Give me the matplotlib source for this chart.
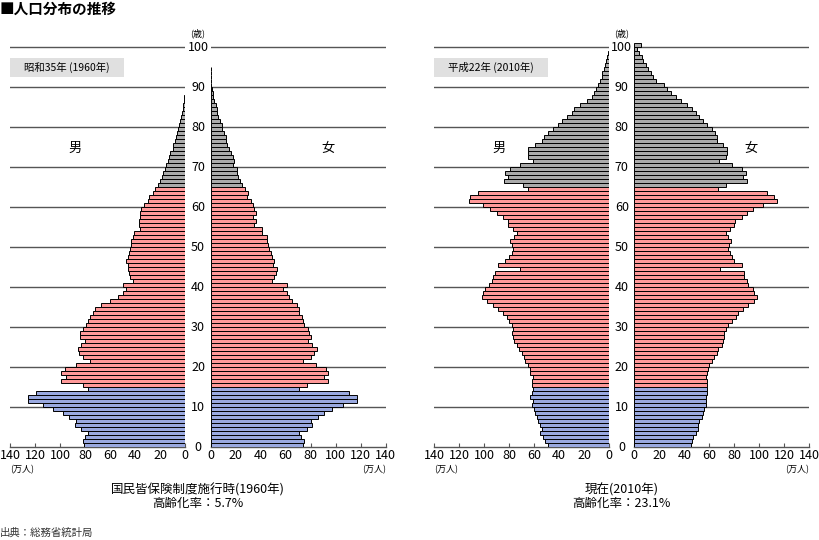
import numpy as np
import matplotlib
matplotlib.use("Agg")
import matplotlib.pyplot as plt
from matplotlib.patches import Rectangle
from matplotlib.transforms import blended_transform_factory

plt.rcParams['font.family'] = ['Noto Sans CJK JP', 'DejaVu Sans']

# ---------------- data (万人), ages 0..100 ----------------
ages = list(range(101))

male_1960 = ([81, 82, 80, 78, 83, 88, 87, 93, 98, 106, 114, 126, 126, 119, 78] +
             [82, 99, 95, 99, 96, 87, 76, 82, 85, 86, 83, 80, 84, 84, 82, 79, 78, 76, 74, 72,
              67, 60, 54, 50, 47, 50, 42, 44, 45, 46, 46, 47, 46, 45, 44, 43] +
             [43, 42, 41, 36, 37, 37, 36, 36, 35, 33, 30, 29, 26, 24] +
             [22, 20, 19, 18, 16, 15.5, 14, 13, 12, 10, 9.6, 8, 7.5, 6.4, 5.6, 4.8, 4.3, 3.5,
              2.7, 2.1, 1.6, 1.1, 0.8, 0.5] +
             [0.3, 0.2, 0.1] + [0] * 9)

female_1960 = ([74, 75, 72, 71, 77, 81, 80, 86, 91, 97, 106, 117, 117, 111, 71] +
               [77, 94, 91, 94, 92, 84, 74, 80, 83, 85, 81, 78, 80, 79, 78, 75, 74, 73, 71, 71,
                69, 65, 63, 61, 58, 61, 49, 51, 52, 53, 50, 51, 49, 48, 47, 46] +
               [45, 45, 41, 41, 35, 36, 34, 36, 35, 34, 32, 29, 30, 27.5] +
               [25, 23.5, 22, 21, 21, 17.6, 19, 18, 16, 15, 13, 12.5, 12, 10.7, 9.3, 8.8, 7.2,
                6.1, 5.3, 4.8, 4, 2.9, 2.1, 1.6, 1.1, 0.5] +
               [0.3, 0.2, 0.1, 0.1] + [0] * 6)

male_2010 = ([49, 51, 53, 55, 54, 55, 57, 58, 59, 60, 62, 61, 63, 62, 61] +
             [62, 62, 61, 63, 63, 65, 67, 68, 70, 72, 74, 76, 77, 78, 77, 78, 80, 82, 85, 89,
              93, 98, 102, 101, 99, 96, 94, 93, 91, 71, 89, 83, 80, 78, 77, 78] +
             [79, 76, 74, 77, 81, 81, 85, 90, 95, 101, 112, 111, 105, 65] +
             [69, 84, 81, 83, 79, 71, 61, 65, 65, 65, 59, 54, 52, 49, 45, 41, 38, 34, 30, 28,
              23.5, 18, 14, 12, 11, 8.8, 7.5, 6.1, 5.5, 4.5, 3.5, 2.5, 1.6, 1.0, 0.6, 0.4])

female_2010 = ([45, 46, 47, 49, 51, 51, 52, 54, 55, 56, 57, 57, 57, 58, 58] +
               [58, 58, 57, 58, 59, 60, 62, 64, 66, 67, 70, 71, 72, 72, 73, 75, 78, 81, 83, 87,
                91, 96, 98, 96, 95, 91, 90, 88, 88, 68.5, 86, 80, 78, 76.5, 75, 76] +
               [77, 75, 73, 76.5, 80, 80.5, 86, 90, 95, 103, 114, 112, 106, 67] +
               [73, 90, 87, 89, 86, 78, 68, 73, 74, 74, 71, 66, 66, 64.5, 62, 58, 55, 52, 49,
                46, 42, 37, 33, 29, 26, 24, 17, 15.2, 13, 11.2, 9.3, 7.2, 5.9, 3.7, 2.4, 5])

x_ticks = [0, 20, 40, 60, 80, 100, 120, 140]
age_ticks = [0, 10, 20, 30, 40, 50, 60, 70, 80, 90, 100]

C_YOUNG = '#9aa9e0'
C_WORK = '#ff9999'
C_OLD = '#aaaaaa'
GRID = '#555555'

W, H = 820, 540
fig = plt.figure(figsize=(W / 100, H / 100), dpi=100)


def fx(px):
    return px / W


def fy(py):
    return 1 - py / H


Y0, Y100 = 447.3, 47.3
ppy = (Y0 - Y100) / 100.0
ax_bottom = fy(Y0)
ax_height = 101 * ppy / H


def age_color(a):
    if a < 15:
        return C_YOUNG
    if a < 65:
        return C_WORK
    return C_OLD


def make_side(left_px, right_px, values, male):
    ax = fig.add_axes([fx(left_px), ax_bottom, (right_px - left_px) / W, ax_height])
    a = np.array(ages)
    v = np.array(values, dtype=float)
    m = v > 0
    ax.barh(a[m] + 0.5, v[m], height=1.0, color=[age_color(x) for x in a[m]],
            edgecolor='black', linewidth=0.7, zorder=3)
    for g in age_ticks[1:]:
        ax.axhline(g, color=GRID, linewidth=1.0, zorder=1)
    ax.set_ylim(0, 101)
    if male:
        ax.set_xlim(140, 0)
    else:
        ax.set_xlim(0, 140)
    ax.set_xticks(x_ticks)
    ax.set_xticklabels([str(t) for t in x_ticks], fontsize=9)
    ax.set_yticks([])
    for s in ['top', 'left', 'right']:
        ax.spines[s].set_visible(False)
    ax.spines['bottom'].set_color(GRID)
    ax.spines['bottom'].set_linewidth(1.0)
    ax.tick_params(axis='x', direction='in', length=3, color=GRID, pad=1.5)
    ax.patch.set_alpha(0)
    return ax


panels = [
    (10, 185.3, 210.7, 385.7, male_1960, female_1960, '昭和35年 (1960年)',
     '国民皆保険制度施行時(1960年)', '高齢化率：5.7%'),
    (434.0, 609.3, 634.3, 809.3, male_2010, female_2010, '平成22年 (2010年)',
     '現在(2010年)', '高齢化率：23.1%'),
]

for (ml, mr, fl, fr, mv, fv, era, cap1, cap2) in panels:
    axm = make_side(ml, mr, mv, True)
    axf = make_side(fl, fr, fv, False)
    cx = (mr + fl) / 2
    tr = blended_transform_factory(fig.transFigure, axm.transData)
    for g in age_ticks:
        axm.text(fx(cx), g, str(g), transform=tr, ha='center', va='center',
                 fontsize=9, color='black', clip_on=False)
    fig.text(fx(cx), fy(33), '(歳)', ha='center', va='center', fontsize=6.5)
    fig.text(fx(ml), fy(470), '(万人)', ha='left', va='center', fontsize=6.5)
    fig.text(fx(fr), fy(470), '(万人)', ha='right', va='center', fontsize=6.5)
    fig.text(fx(ml + 65), fy(148), '男', ha='center', va='center', fontsize=9.5)
    fig.text(fx(fr - 58), fy(148), '女', ha='center', va='center', fontsize=9.5)
    fig.add_artist(Rectangle((fx(ml), fy(77)), 114 / W, 19 / H, transform=fig.transFigure,
                             facecolor='#e0e0e0', edgecolor='none'))
    fig.text(fx(ml + 57), fy(67.5), era, ha='center', va='center', fontsize=7.5)
    fig.text(fx(cx), fy(490), cap1, ha='center', va='center', fontsize=9)
    fig.text(fx(cx), fy(503.5), cap2, ha='center', va='center', fontsize=9)

fig.text(fx(0), fy(9), '■人口分布の推移', ha='left', va='center', fontsize=10.5,
         fontweight='bold')
fig.text(fx(0), fy(533), '出典：総務省統計局', ha='left', va='center', fontsize=7.5,
         color='#333333')

fig.savefig('out.png', dpi=100)
